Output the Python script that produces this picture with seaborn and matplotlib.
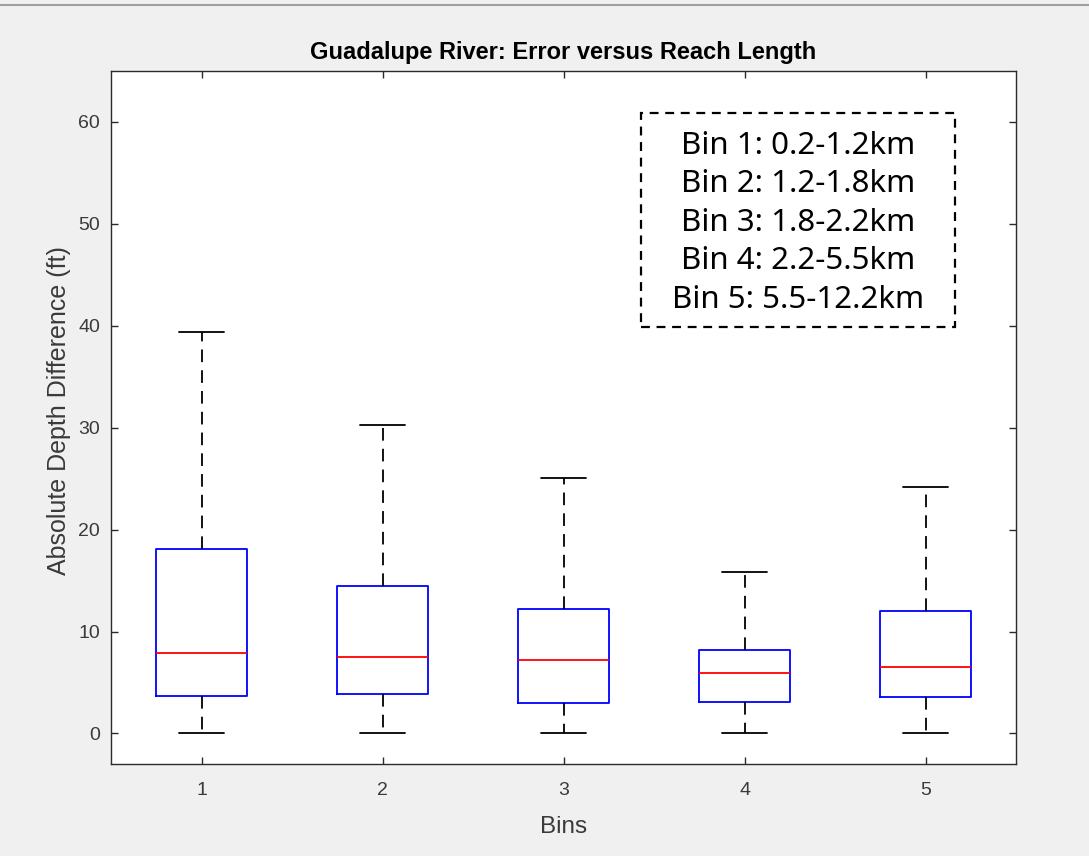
import numpy as np
import pandas as pd
import matplotlib
matplotlib.use("Agg")
import matplotlib.pyplot as plt
from matplotlib.patches import Rectangle
from matplotlib.lines import Line2D
import seaborn as sns

# ---- data (five-number summaries) ----
bins = ["1", "2", "3", "4", "5"]
bin1 = [0.0, 3.7, 7.9, 18.1, 39.4]
bin2 = [0.0, 3.9, 7.5, 14.5, 30.3]
bin3 = [0.0, 3.0, 7.2, 12.2, 25.1]
bin4 = [0.0, 3.1, 5.9, 8.2, 15.8]
bin5 = [0.0, 3.6, 6.5, 12.0, 24.2]
legend_lines = [
    "Bin 1: 0.2-1.2km",
    "Bin 2: 1.2-1.8km",
    "Bin 3: 1.8-2.2km",
    "Bin 4: 2.2-5.5km",
    "Bin 5: 5.5-12.2km",
]
title = "Guadalupe River: Error versus Reach Length"
xlabel = "Bins"
ylabel = "Absolute Depth Difference (ft)"
yticks = [0, 10, 20, 30, 40, 50, 60]

values = [bin1, bin2, bin3, bin4, bin5]
df = pd.DataFrame({
    "Bin": [b for b, v in zip(bins, values) for _ in v],
    "Value": [x for v in values for x in v],
})

sns.set_style("white")
plt.rcParams["font.family"] = ["Liberation Sans", "DejaVu Sans"]

axis_col = "#2b2b2b"
text_col = "#3a3a3a"
fig = plt.figure(figsize=(10.89, 8.56), dpi=100, facecolor="#f0f0f0")
ax = fig.add_axes([111 / 1089, 1 - 764 / 856, (1016 - 111) / 1089, (764 - 71) / 856])
ax.set_facecolor("white")

sns.boxplot(
    data=df, x="Bin", y="Value", order=bins, ax=ax,
    width=0.5, whis=(0, 100), fill=False, linewidth=1.3,
    boxprops=dict(color="#0000ff", linewidth=1.3),
    medianprops=dict(color="#ff0000", linewidth=1.3),
    whiskerprops=dict(color="black", linewidth=1.3, linestyle=(0, (7, 4.5))),
    capprops=dict(color="black", linewidth=1.3),
    showfliers=False,
)

ax.set_xlim(-0.5, 4.5)
ax.set_ylim(-3, 65)
ax.set_yticks(yticks)
ax.set_yticklabels([str(t) for t in yticks])

for s in ax.spines.values():
    s.set_visible(True)
    s.set_color(axis_col)
    s.set_linewidth(1.0)

ax.tick_params(axis="both", which="both", direction="in", length=5, width=1,
               colors=axis_col, labelcolor=text_col, labelsize=14,
               top=True, right=True, left=True, bottom=True)
ax.tick_params(axis="x", pad=13)
ax.tick_params(axis="y", pad=8)

ax.set_title(title, fontsize=17, fontweight="bold", color="black", pad=9)
ax.set_xlabel(xlabel, fontsize=17.5, color=text_col, labelpad=12)
ax.set_ylabel(ylabel, fontsize=18, color=text_col, labelpad=5, y=0.51)

# dashed annotation box
ax.add_patch(Rectangle((0.586, 0.631), 0.347, 0.308, transform=ax.transAxes,
                       fill=False, edgecolor="black", linewidth=1.6,
                       linestyle=(0, (4, 3)), zorder=5))
ax.text(0.7595, 0.781, "\n".join(legend_lines), transform=ax.transAxes,
        ha="center", va="center", fontsize=22.5, linespacing=1.37,
        family=["Noto Sans", "DejaVu Sans"], color="black", zorder=6)

# thin gray screenshot border at top
fig.add_artist(Line2D([0, 1], [1 - 4.5 / 856, 1 - 4.5 / 856], transform=fig.transFigure,
                      color="#a0a0a0", linewidth=1.5))

fig.savefig("out.png", dpi=100, facecolor=fig.get_facecolor())
